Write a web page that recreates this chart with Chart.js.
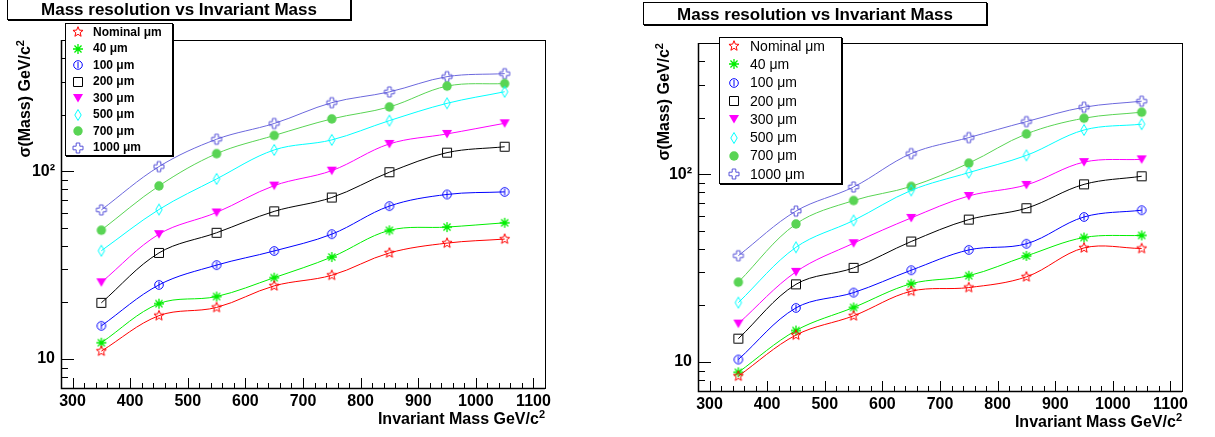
<!DOCTYPE html>
<html>
<head>
<meta charset="utf-8">
<script src="https://cdn.jsdelivr.net/npm/chart.js@4.4.0/dist/chart.umd.min.js"></script>
<style>
  body { margin: 0; width: 1215px; height: 437px; position: relative; overflow: hidden; background: #fff;
         font-family: "Liberation Sans", Arial, sans-serif; color: #000; }
  canvas { position: absolute; top: 0; }
  .title { position: absolute; width: 342px; height: 21px; border: 1px solid #000; background: #fff;
           box-shadow: 1px 1px 0 #000; font-weight: bold; font-size: 17px; line-height: 23px; text-align: center; }
  .legend { position: absolute; border: 1px solid #000; background: #fff; box-shadow: 1px 1px 0 #000; }
  .legend .row { position: absolute; white-space: nowrap; }
  .legend canvas { position: absolute; }
  .ytitle { position: absolute; white-space: nowrap; font-weight: bold; font-size: 16px; line-height: 18px;
            transform-origin: 0 0; transform: rotate(-90deg) translate(-100%, -50%); }
  .xtitle { position: absolute; white-space: nowrap; font-weight: bold; font-size: 16px; line-height: 18px; }
  sup { font-size: 11px; line-height: 0; vertical-align: 6px; }
</style>
</head>
<body>
<canvas id="leftChart" width="600" height="437" style="left:0"></canvas>
<canvas id="rightChart" width="595" height="437" style="left:620px"></canvas>

<div class="title" style="left:7px; top:-3px;">Mass resolution vs Invariant Mass</div>
<div class="title" style="left:643px; top:2px;">Mass resolution vs Invariant Mass</div>

<div class="legend" id="leftLegend" style="left:65px; top:23px; width:106px; height:131px;"></div>
<div class="legend" id="rightLegend" style="left:719px; top:37px; width:121px; height:145px;"></div>

<div class="ytitle" style="left:25px; top:40px;">σ(Mass) GeV/c<sup>2</sup></div>
<div class="ytitle" style="left:664px; top:43px;">σ(Mass) GeV/c<sup>2</sup></div>
<div class="xtitle" style="right:670px; top:410px;">Invariant Mass GeV/c<sup>2</sup></div>
<div class="xtitle" style="right:33px; top:413px;">Invariant Mass GeV/c<sup>2</sup></div>

<script>
// x positions of the measurements (GeV/c^2)
const massPoints = [350, 450, 550, 650, 750, 850, 950, 1050];
const seriesLabels = ['Nominal μm', '40 μm', '100 μm', '200 μm', '300 μm', '500 μm', '700 μm', '1000 μm'];
const xTickValues = [300, 400, 500, 600, 700, 800, 900, 1000, 1100];
const yTickValues = [10, 100];
const yTickLabels = ['10', '10²'];

// left pad
const leftNominal = [11.0, 17.0, 18.8, 24.5, 27.9, 36.7, 41.4, 43.5];
const left40 = [12.2, 19.7, 21.5, 27.1, 34.9, 48.4, 50.4, 53.1];
const left100 = [15.0, 24.8, 31.6, 37.6, 46.2, 65.2, 75.2, 77.6];
const left200 = [19.9, 36.7, 47.0, 61.1, 72.4, 98.8, 125.6, 135];
const left300 = [25.6, 46.2, 60.3, 83.8, 100.7, 139.8, 158, 180];
const left500 = [37.7, 62.5, 91, 129.8, 146.8, 186, 230, 265];
const left700 = [48.5, 83.5, 124, 155, 190, 220, 284, 293];
const left1000 = [62.2, 105.8, 148, 179.6, 231.8, 264.6, 319, 331];

// right pad
const rightNominal = [8.4, 13.9, 17.6, 23.8, 24.9, 28.4, 40.5, 40.2];
const right40 = [8.8, 14.7, 19.5, 26.1, 28.8, 36.7, 46.0, 47.2];
const right100 = [10.3, 19.4, 23.4, 30.8, 39.5, 42.6, 59.2, 64.3];
const right200 = [13.3, 25.9, 31.7, 43.8, 57.3, 65.9, 88.3, 97.5];
const right300 = [16.0, 30.2, 42.9, 58.5, 76.6, 87.7, 116, 120];
const right500 = [20.7, 40.8, 56.7, 82.0, 102, 126, 172, 184.7];
const right700 = [26.6, 54.3, 72.4, 86.1, 114.5, 164, 198.8, 213.9];
const right1000 = [36.8, 63.6, 85.5, 128.8, 156.7, 190.6, 227.5, 244.9];

// ROOT-like marker / line colours
const markerKinds = ['star', 'asterisk', 'circle', 'square', 'triangle', 'diamond', 'dot', 'cross'];
const seriesColors = ['#ff0000', '#00ee00', '#0000ff', '#000000', '#ff00ff', '#00ffff', '#59d454', '#5954d9'];
const lineColors = ['#ff0000', '#00ee00', '#0000ff', '#000000', '#ff00ff', '#00ffff', '#59d454', '#6c68dd'];

Chart.defaults.font.family = '"Liberation Sans", Arial, sans-serif';
Chart.defaults.color = '#000';

function drawMarker(ctx, kind, color, cx, cy) {
  ctx.save();
  ctx.strokeStyle = color;
  ctx.fillStyle = color;
  ctx.lineWidth = 1;
  ctx.beginPath();
  if (kind === 'star') {
    for (let i = 0; i < 10; i++) {
      const r = i % 2 ? 2.3 : 5.3;
      const a = -Math.PI / 2 + i * Math.PI / 5;
      const px = cx + r * Math.cos(a), py = cy + r * Math.sin(a);
      if (i) ctx.lineTo(px, py); else ctx.moveTo(px, py);
    }
    ctx.closePath();
    ctx.stroke();
  } else if (kind === 'asterisk') {
    for (let i = 0; i < 4; i++) {
      const a = i * Math.PI / 4;
      ctx.moveTo(cx + 5 * Math.cos(a), cy + 5 * Math.sin(a));
      ctx.lineTo(cx - 5 * Math.cos(a), cy - 5 * Math.sin(a));
    }
    ctx.lineWidth = 1.3;
    ctx.stroke();
  } else if (kind === 'circle') {
    ctx.arc(cx, cy, 4.3, 0, 2 * Math.PI);
    ctx.moveTo(cx, cy - 3);
    ctx.lineTo(cx, cy + 3);
    ctx.stroke();
  } else if (kind === 'square') {
    ctx.rect(cx - 4.5, cy - 4.5, 9, 9);
    ctx.stroke();
  } else if (kind === 'triangle') {
    ctx.moveTo(cx - 5, cy - 4);
    ctx.lineTo(cx + 5, cy - 4);
    ctx.lineTo(cx, cy + 4.5);
    ctx.closePath();
    ctx.fill();
  } else if (kind === 'diamond') {
    ctx.moveTo(cx, cy - 5.5);
    ctx.lineTo(cx + 3.2, cy);
    ctx.lineTo(cx, cy + 5.5);
    ctx.lineTo(cx - 3.2, cy);
    ctx.closePath();
    ctx.stroke();
  } else if (kind === 'dot') {
    ctx.arc(cx, cy, 4.7, 0, 2 * Math.PI);
    ctx.fill();
  } else if (kind === 'cross') {
    const a = 1.8, b = 5;
    const pts = [[-a, -b], [a, -b], [a, -a], [b, -a], [b, a], [a, a], [a, b], [-a, b], [-a, a], [-b, a], [-b, -a], [-a, -a]];
    pts.forEach((p, i) => i ? ctx.lineTo(cx + p[0], cy + p[1]) : ctx.moveTo(cx + p[0], cy + p[1]));
    ctx.closePath();
    ctx.stroke();
  }
  ctx.restore();
}

function makeMarker(kind, color) {
  const c = document.createElement('canvas');
  c.width = 14; c.height = 14;
  drawMarker(c.getContext('2d'), kind, color, 7, 7);
  return c;
}

// frame + inward ticks like a ROOT pad
const rootAxes = {
  id: 'rootAxes',
  afterDraw(chart) {
    const { ctx, chartArea: a, scales: { x, y } } = chart;
    ctx.save();
    ctx.strokeStyle = '#000';
    ctx.lineWidth = 1;
    ctx.strokeRect(a.left + 0.5, a.top + 0.5, a.right - a.left, a.bottom - a.top);
    ctx.lineWidth = 1.5;
    ctx.beginPath();
    ctx.moveTo(a.left + 0.5, a.top);
    ctx.lineTo(a.left + 0.5, a.bottom + 0.5);
    ctx.lineTo(a.right, a.bottom + 0.5);
    ctx.stroke();
    ctx.lineWidth = 1;
    ctx.beginPath();
    for (let v = 300; v <= 1100; v += 20) {
      const px = Math.round(x.getPixelForValue(v)) + 0.5;
      const len = v % 100 === 0 ? 10 : 5;
      ctx.moveTo(px, a.bottom);
      ctx.lineTo(px, a.bottom - len);
    }
    for (const d of [1, 10, 100]) {
      for (let m = 1; m <= 9; m++) {
        const v = m * d;
        if (v < y.min || v > y.max) continue;
        const py = Math.round(y.getPixelForValue(v)) + 0.5;
        const len = m === 1 ? 13 : 7;
        ctx.moveTo(a.left, py);
        ctx.lineTo(a.left + len, py);
      }
    }
    ctx.stroke();
    ctx.restore();
  }
};

function buildChart(id, seriesData, area, canvasW) {
  const datasets = seriesData.map((vals, i) => ({
    label: seriesLabels[i],
    data: vals,
    borderColor: lineColors[i],
    backgroundColor: seriesColors[i],
    borderWidth: 1,
    tension: 0.35,
    pointStyle: makeMarker(markerKinds[i], seriesColors[i]),
    pointRadius: 5
  }));
  return new Chart(document.getElementById(id), {
    type: 'line',
    data: { labels: massPoints, datasets: datasets },
    options: {
      responsive: false,
      animation: false,
      events: [],
      layout: { padding: { left: area.left - 40, top: area.top, right: canvasW - area.right, bottom: 437 - area.bottom - 30 } },
      plugins: { legend: { display: false }, tooltip: { enabled: false } },
      scales: {
        x: {
          type: 'linear', min: 280, max: 1120,
          grid: { display: false, drawTicks: false }, border: { display: false },
          afterFit: s => { s.height = 30; },
          afterBuildTicks: s => { s.ticks = xTickValues.map(v => ({ value: v })); },
          ticks: {
            padding: 4, maxRotation: 0, autoSkip: false, font: { size: 16, weight: 'bold' },
            callback: v => String(v)
          }
        },
        y: {
          type: 'logarithmic', min: 7, max: 500,
          grid: { display: false, drawTicks: false }, border: { display: false },
          afterFit: s => { s.width = 40; },
          afterBuildTicks: s => { s.ticks = yTickValues.map(v => ({ value: v })); },
          ticks: {
            padding: 6, font: { size: 16, weight: 'bold' },
            callback: v => yTickLabels[yTickValues.indexOf(v)]
          }
        }
      }
    },
    plugins: [rootAxes]
  });
}

function buildLegend(id, rows) {
  const box = document.getElementById(id);
  seriesLabels.forEach((lab, i) => {
    const cy = rows.top + i * rows.step;
    const m = makeMarker(markerKinds[i], seriesColors[i]);
    m.style.left = (rows.markerX - 7) + 'px';
    m.style.top = (cy - 7) + 'px';
    box.appendChild(m);
    const t = document.createElement('div');
    t.className = 'row';
    t.textContent = lab;
    t.style.left = rows.textX + 'px';
    t.style.top = (cy - rows.size * 0.6) + 'px';
    t.style.font = rows.weight + ' ' + rows.size + 'px "Liberation Sans", Arial, sans-serif';
    t.style.lineHeight = (rows.size * 1.2) + 'px';
    box.appendChild(t);
  });
}

buildChart('leftChart',
  [leftNominal, left40, left100, left200, left300, left500, left700, left1000],
  { left: 61, top: 40, right: 545, bottom: 388 }, 600);
buildChart('rightChart',
  [rightNominal, right40, right100, right200, right300, right500, right700, right1000],
  { left: 78, top: 43, right: 562, bottom: 391 }, 595);

buildLegend('leftLegend', { top: 8, step: 16.5, markerX: 12, textX: 27, size: 12, weight: 'bold' });
buildLegend('rightLegend', { top: 8, step: 18.3, markerX: 14, textX: 30, size: 14, weight: 'normal' });
</script>
</body>
</html>
